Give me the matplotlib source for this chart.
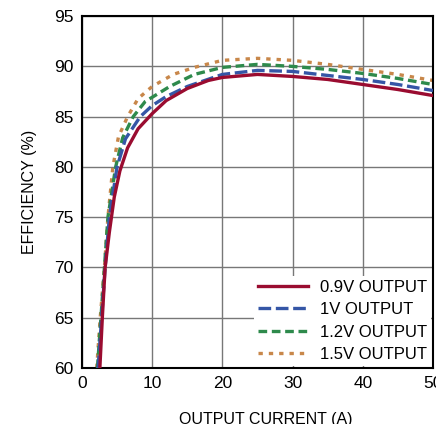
import matplotlib
matplotlib.use("Agg")
import matplotlib.pyplot as plt
from matplotlib import font_manager

# efficiency curves
cur_09 = [2.55, 2.9, 3.3, 3.9, 4.6, 5.4, 6.5, 8, 10, 12, 15, 18, 20, 25, 30, 35, 40, 45, 50]
eff_09 = [60, 65, 70, 73.5, 77, 79.6, 81.9, 83.8, 85.3, 86.6, 87.8, 88.6, 88.9, 89.2, 89.0, 88.7, 88.2, 87.7, 87.1]

cur_10 = [2.3, 2.8, 3.3, 3.9, 5.0, 6.2, 8.3, 10, 12, 15, 20, 25, 30, 35, 40, 45, 50]
eff_10 = [60, 65, 70, 75, 80, 82.8, 85, 86.1, 87.0, 88.0, 89.2, 89.6, 89.5, 89.1, 88.7, 88.2, 87.6]

cur_12 = [2.2, 2.7, 3.2, 3.7, 4.8, 5.8, 7.3, 9, 12.5, 16, 20, 25, 30, 35, 40, 45, 50]
eff_12 = [60, 65, 70, 75, 80, 82.9, 85, 86.5, 88.0, 89.2, 89.9, 90.2, 90.0, 89.7, 89.3, 88.8, 88.2]

cur_15 = [2.1, 2.6, 3.2, 3.7, 4.4, 5.2, 6.5, 8, 10, 13, 16, 20, 25, 30, 35, 40, 45, 50]
eff_15 = [60, 65, 70, 75, 80, 83, 85, 86.8, 88.0, 89.2, 89.9, 90.6, 90.8, 90.6, 90.2, 89.7, 89.2, 88.6]

labels = ["0.9V OUTPUT", "1V OUTPUT", "1.2V OUTPUT", "1.5V OUTPUT"]

names = {f.name for f in font_manager.fontManager.ttflist}
font = "Liberation Sans Narrow" if "Liberation Sans Narrow" in names else "Liberation Sans"
plt.rcParams["font.family"] = [font, "DejaVu Sans"]

fig = plt.figure(figsize=(4.36, 4.24), dpi=100)
ax = fig.add_axes([0.188, 0.132, 0.805, 0.830])

ax.plot(cur_09, eff_09, color="#9a0c30", lw=2.4, label=labels[0], zorder=5)
ax.plot(cur_10, eff_10, color="#3556a6", lw=2.4, dashes=(3.8, 1.4), label=labels[1], zorder=4)
ax.plot(cur_12, eff_12, color="#2e8a4c", lw=2.4, dashes=(2.6, 1.4), label=labels[2], zorder=3)
ax.plot(cur_15, eff_15, color="#c8874a", lw=2.4, dashes=(1.3, 1.8), label=labels[3], zorder=2)

ax.set_xlim(0, 50)
ax.set_ylim(60, 95)
ax.set_xticks(range(0, 51, 10))
ax.set_yticks(range(60, 96, 5))
ax.grid(True, color="#777777", lw=1)
ax.set_axisbelow(True)
ax.tick_params(length=0, labelsize=12.5, pad=6)
for s in ax.spines.values():
    s.set_linewidth(1.5)
    s.set_color("black")

ax.set_xlabel("OUTPUT CURRENT (A)", fontsize=11.5, labelpad=14)
ax.xaxis.set_label_coords(0.524, -0.125)
ax.set_ylabel("EFFICIENCY (%)", fontsize=11.5, labelpad=12)

leg = ax.legend(loc="lower right", fontsize=12, frameon=True, framealpha=1,
                edgecolor="white", fancybox=False, handlelength=3.0,
                handletextpad=0.7, labelspacing=0.45, borderpad=0.25,
                borderaxespad=0.1)
leg.get_frame().set_linewidth(0)

fig.savefig("out.png", dpi=100)
